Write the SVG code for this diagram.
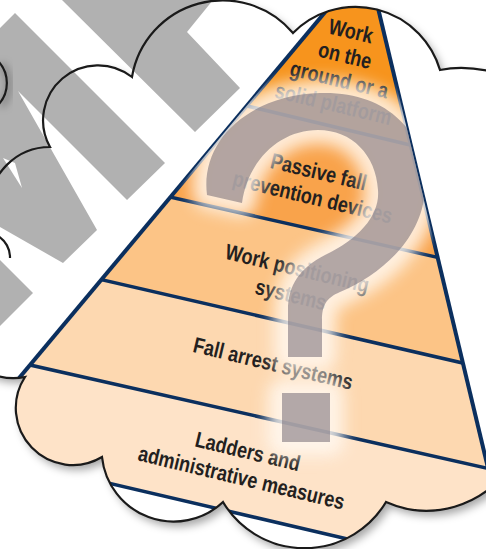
<svg xmlns="http://www.w3.org/2000/svg" width="486" height="549" viewBox="0 0 486 549">
<style>
.lbl{font-family:'Liberation Sans',Arial,sans-serif;font-weight:bold;font-size:22px;fill:#231f20;text-anchor:middle}
.div{stroke:#0b2f5e;stroke-width:3.5;fill:none}
.edge{stroke:#0b2f5e;stroke-width:4;fill:none}
.gray{fill:#b1b1b1}
.outline{fill:none;stroke:#1a1a1a;stroke-width:2.2}
</style>
<defs>
<filter id="shadow" x="-20%" y="-20%" width="140%" height="140%">
<feDropShadow dx="4" dy="5" stdDeviation="4" flood-color="#000" flood-opacity="0.35"/>
</filter>
<filter id="glow" x="-30%" y="-30%" width="160%" height="160%"><feGaussianBlur stdDeviation="8"/></filter>
<filter id="soft" x="-50%" y="-50%" width="200%" height="200%"><feGaussianBlur stdDeviation="4"/></filter>
<clipPath id="cloudClip"><path d="M -11 208 A 61 61 0 0 1 50 147 A 55 55 0 0 1 132 77 A 92 92 0 0 1 293 33 A 88 88 0 0 1 440 70 C 460 66 480 68 500 74 L 560 90 L 560 466 L 510 466 A 100 100 0 0 1 386 502 A 95 95 0 0 1 223 502 A 72 72 0 0 1 102 457 A 57 57 0 0 1 25 377 A 60 60 0 0 1 -40 345 L -40 208 Z"/></clipPath>
<clipPath id="pyrClip"><polygon points="367,-38 510,560 -133,560"/></clipPath>
<path id="qm" d="M 207 195 C 200 140 250 95 320 93 C 390 91 428 135 425 190 C 422 240 380 275 340 292 C 326 298 322 306 322 320 L 322 357 L 288 357 L 288 310 C 288 285 300 268 325 255 C 360 238 380 215 378 190 C 376 155 352 130 318 130 C 280 130 248 160 242 203 Z M 282 393 L 330 393 L 330 442 L 282 442 Z"/>
</defs>
<rect width="486" height="549" fill="#ffffff"/>
<path id="cloud-fill" filter="url(#shadow)" fill="#ffffff" d="M -11 208 A 61 61 0 0 1 50 147 A 55 55 0 0 1 132 77 A 92 92 0 0 1 293 33 A 88 88 0 0 1 440 70 C 460 66 480 68 500 74 L 560 90 L 560 466 L 510 466 A 100 100 0 0 1 386 502 A 95 95 0 0 1 223 502 A 72 72 0 0 1 102 457 A 57 57 0 0 1 25 377 A 60 60 0 0 1 -40 345 L -40 208 Z"/>
<g id="gray-shapes">
<polygon class="gray" points="62,0 213,0 187,32 240,88 195,132"/>
<polygon class="gray" points="15,13 165,163 127,200 18,91 97,230 63,263 0,227 0,28"/>
<polygon fill="#ffffff" points="3,158 15,163 22,188"/>
<polygon class="gray" points="0,260 33,293 0,326"/>
<path d="M 1 64 A 32 32 0 0 1 1 106" stroke="#000" stroke-opacity="0.35" stroke-width="5" fill="none" filter="url(#soft)"/>
</g>
<g clip-path="url(#cloudClip)">
<g clip-path="url(#pyrClip)">
<g id="band1">
<polygon fill="#f7941d" points="-150,-100 550,-100 550,178.4 -150,11.1"/>
<text class="lbl" transform="translate(342,68) rotate(13.5) scale(0.82,1)"><tspan x="0" y="-30.5">Work</tspan><tspan x="0" y="-5.5">on the</tspan><tspan x="0" y="19.5">ground or a</tspan><tspan x="0" y="44.5">solid platform</tspan></text>
</g>
<g id="band2">
<polygon fill="#f9a34b" points="-150,11.1 550,178.4 550,282.7 -150,124.8"/>
<text class="lbl" transform="translate(315.5,185) rotate(13.5) scale(0.82,1)"><tspan x="0" y="-6">Passive fall</tspan><tspan x="0" y="20">prevention devices</tspan></text>
</g>
<g id="band3">
<polygon fill="#fcc486" points="-150,124.8 550,282.7 550,383.1 -150,221.7"/>
<text class="lbl" transform="translate(294,282) rotate(13.5) scale(0.82,1)"><tspan x="0" y="-6.5">Work positioning</tspan><tspan x="0" y="20.5">systems</tspan></text>
</g>
<g id="band4">
<polygon fill="#fdd8b0" points="-150,221.7 550,383.1 550,482.5 -150,324.3"/>
<text class="lbl" transform="translate(273,364) rotate(13.5) scale(0.82,1)"><tspan x="0" y="7">Fall arrest systems</tspan></text>
</g>
<g id="band5">
<polygon fill="#fee3c8" points="-150,324.3 550,482.5 550,586.4 -150,422.6"/>
<text class="lbl" transform="translate(244.5,465) rotate(13.5) scale(0.82,1)"><tspan x="0" y="-6.5">Ladders and</tspan><tspan x="0" y="20.5">administrative measures</tspan></text>
</g>
<g id="connectors">
<line class="div" x1="-150" y1="11.1" x2="550" y2="178.4"/>
<line class="div" x1="-150" y1="124.8" x2="550" y2="282.7"/>
<line class="div" x1="-150" y1="221.7" x2="550" y2="383.1"/>
<line class="div" x1="-150" y1="324.3" x2="550" y2="482.5"/>
<line class="div" x1="-150" y1="422.6" x2="550" y2="586.4"/>
</g>
</g>
<g id="pyramid-edges">
<line class="edge" x1="367" y1="-38" x2="-133" y2="560"/>
<line class="edge" x1="367" y1="-38" x2="510" y2="560"/>
</g>
<g id="question-mark" clip-path="url(#pyrClip)">
<use href="#qm" fill="#fff8f0" stroke="#fff8f0" stroke-width="28" stroke-linejoin="round" opacity="0.85" filter="url(#glow)"/>
<use href="#qm" fill="#6e6470" opacity="0.52"/>
</g>
</g>
<g id="cloud-outline">
<path class="outline" d="M -11 208 A 61 61 0 0 1 50 147 A 55 55 0 0 1 132 77 A 92 92 0 0 1 293 33 A 88 88 0 0 1 440 70 C 460 66 480 68 500 74 L 560 90 M 510 466 A 100 100 0 0 1 386 502 A 95 95 0 0 1 223 502 A 72 72 0 0 1 102 457 A 57 57 0 0 1 25 377 A 60 60 0 0 1 -40 345"/>
<path class="outline" d="M -1 62 A 32 32 0 0 1 -1 104"/>
<path class="outline" d="M -2 236 A 25 25 0 0 1 10 258"/>
</g>
</svg>
